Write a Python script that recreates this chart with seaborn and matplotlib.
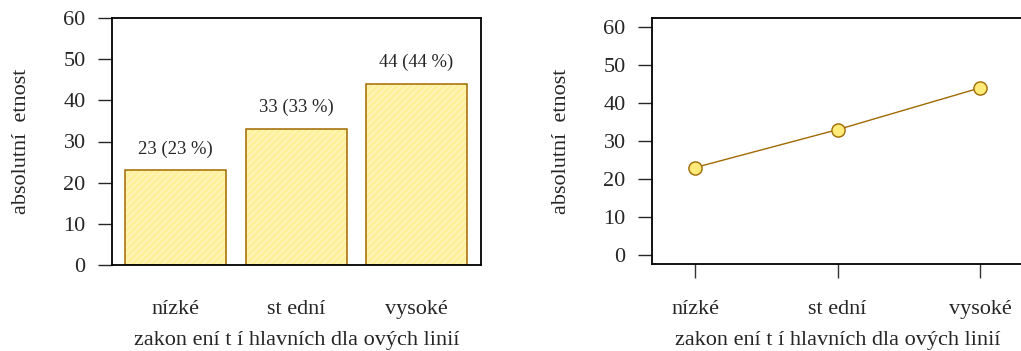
import matplotlib
matplotlib.use("Agg")
import matplotlib.pyplot as plt
import seaborn as sns
import numpy as np

# ---- data ----
categories = ["nízké", "st ední", "vysoké"]
counts = [23, 33, 44]
y_ticks = [0, 10, 20, 30, 40, 50, 60]
x_title = "zakon ení t í hlavních dla ových linií"
y_title = "absolutní  etnost"

sns.set_style("white")
plt.rcParams["font.family"] = ["Liberation Serif", "DejaVu Serif"]
plt.rcParams["hatch.linewidth"] = 0.7

fill_col = "#FFF09C"
hatch_col = "#FFF8CC"
edge_col = "#A06A00"
marker_fill = "#FFEA7A"

FS = 16

W, H = 1021, 351
fig = plt.figure(figsize=(W / 100, H / 100), dpi=100)

def axes_px(l, t, r, b):
    return fig.add_axes([l / W, 1 - b / H, (r - l) / W, (b - t) / H])

ax1 = axes_px(112, 18, 481, 265)
ax2 = axes_px(652, 18, 1023, 264)

total = sum(counts)
pcts = [c / total * 100 for c in counts]

# ---- left: bars ----
sns.barplot(x=categories, y=counts, ax=ax1, color=fill_col, edgecolor=hatch_col,
            linewidth=0, hatch="/////", width=0.838, saturation=1, errorbar=None)
sns.barplot(x=categories, y=counts, ax=ax1, fill=False, edgecolor=edge_col,
            linewidth=1.1, width=0.838, errorbar=None)
for i, (c, p) in enumerate(zip(counts, pcts)):
    ax1.text(i, c + 5.2, f"{c} ({p:.0f} %)", ha="center", va="center", fontsize=13.4)
ax1.set_xlim(-0.527, 2.535)
ax1.set_ylim(0, 60)
ax1.set_yticks(y_ticks)
ax1.tick_params(axis="x", length=0, pad=25.5, labelsize=FS)
ax1.tick_params(axis="y", length=10, width=1, pad=9, labelsize=FS, left=True)

# ---- right: points & line ----
sns.pointplot(x=categories, y=counts, ax=ax2, color=edge_col, linewidth=1.0,
              markersize=9.5, markerfacecolor=marker_fill, markeredgecolor=edge_col,
              markeredgewidth=1.0, errorbar=None)
ax2.set_xlim(-0.302, 2.30)
ax2.set_ylim(-2.4, 62.4)
ax2.set_yticks(y_ticks)
ax2.tick_params(axis="x", length=10, width=1, pad=16, labelsize=FS, bottom=True,
                color="#333333")
ax2.tick_params(axis="y", length=10, width=1, pad=9, labelsize=FS, left=True)

for ax in (ax1, ax2):
    for s in ax.spines.values():
        s.set_visible(True)
        s.set_color("black")
        s.set_linewidth(1.3)
    ax.set_ylabel(y_title, fontsize=FS, labelpad=23)
    ax.grid(False)
ax1.set_xlabel(x_title, fontsize=FS, labelpad=8.5)
ax2.set_xlabel(x_title, fontsize=FS, labelpad=8.5)

fig.savefig("out.png", dpi=100, facecolor="white")
